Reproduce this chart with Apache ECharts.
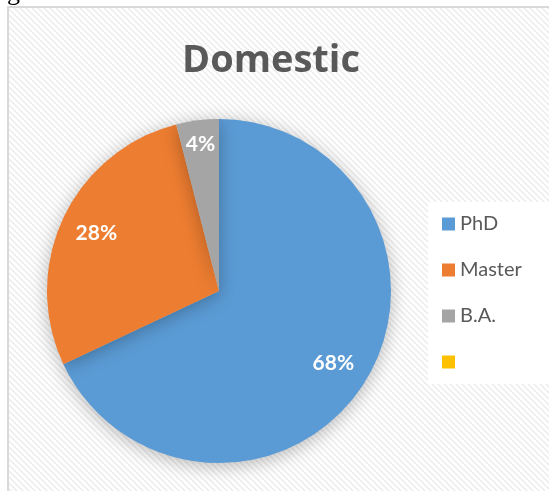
<!DOCTYPE html>
<html>
<head>
<meta charset="utf-8">
<script src="https://cdn.jsdelivr.net/npm/echarts@6/dist/echarts.min.js"></script>
<style>
html,body{margin:0;padding:0;background:#fff;}
#main{width:549px;height:491px;}
</style>
</head>
<body>
<div id="main"></div>
<script>
// chart data
var categories = ['PhD', 'Master', 'B.A.', ' '];
var values = [68, 28, 4, 0];
var colors = ['#5B9BD5', '#ED7D31', '#A5A5A5', '#FFC000'];

// faint diagonal pattern like the excel chart area
var pat = document.createElement('canvas');
pat.width = 6; pat.height = 6;
var pc = pat.getContext('2d');
pc.fillStyle = '#ffffff';
pc.fillRect(0, 0, 6, 6);
pc.strokeStyle = '#ececec';
pc.lineWidth = 1.5;
pc.beginPath();
pc.moveTo(0, 0); pc.lineTo(6, 6);
pc.moveTo(-3, 3); pc.lineTo(3, 9);
pc.moveTo(3, -3); pc.lineTo(9, 3);
pc.stroke();

var pieData = [];
for (var i = 0; i < categories.length; i++) {
    pieData.push({name: categories[i], value: values[i], itemStyle: {color: colors[i]}});
}

function labelData(show) {
    var arr = [];
    for (var i = 0; i < categories.length; i++) {
        arr.push({name: categories[i], value: values[i], label: {show: show.indexOf(i) >= 0}});
    }
    return arr;
}

var labelStyle = {
    position: 'inside',
    formatter: '{c}%',
    color: '#fff',
    fontFamily: 'Lato',
    fontWeight: 'bold',
    fontSize: 21
};

var chart = echarts.init(document.getElementById('main'));
var option = {
    animation: false,
    color: colors,
    graphic: [
        {type: 'rect', z: -10, silent: true,
         shape: {x: 8, y: 7, width: 560, height: 500},
         style: {fill: {image: pat, repeat: 'repeat'}, stroke: '#d9d9d9', lineWidth: 2}},
        {type: 'text', left: 7, top: -20, silent: true,
         style: {text: 'g', font: '26px "Liberation Serif"', fill: '#000'}}
    ],
    title: {
        text: 'Domestic',
        left: 177, top: 37,
        textStyle: {fontFamily: 'Open Sans', fontWeight: 'bold', fontSize: 38, color: '#595959'}
    },
    legend: {
        orient: 'vertical',
        left: 428, top: 202,
        padding: [12, 30, 12, 14],
        backgroundColor: '#fff',
        icon: 'rect',
        itemWidth: 13, itemHeight: 13,
        itemGap: 26,
        data: categories,
        textStyle: {fontFamily: 'Lato', fontSize: 20, lineHeight: 19, color: '#595959'}
    },
    series: [
        {
            type: 'pie',
            center: [219, 291],
            radius: [0, 172],
            startAngle: 90,
            clockwise: true,
            silent: true,
            data: pieData,
            label: {show: false},
            labelLine: {show: false},
            itemStyle: {shadowBlur: 18, shadowColor: 'rgba(0,0,0,0.28)', shadowOffsetY: 3}
        },
        {
            type: 'pie',
            center: [219, 291],
            radius: [93, 172],
            startAngle: 90,
            silent: true,
            legendHoverLink: false,
            data: labelData([0, 1]),
            itemStyle: {color: 'rgba(0,0,0,0)'},
            label: labelStyle,
            labelLine: {show: false}
        },
        {
            type: 'pie',
            center: [219, 291],
            radius: [118, 172],
            startAngle: 90,
            silent: true,
            legendHoverLink: false,
            data: labelData([2]),
            itemStyle: {color: 'rgba(0,0,0,0)'},
            label: labelStyle,
            labelLine: {show: false}
        }
    ]
};
chart.setOption(option);
</script>
</body>
</html>
